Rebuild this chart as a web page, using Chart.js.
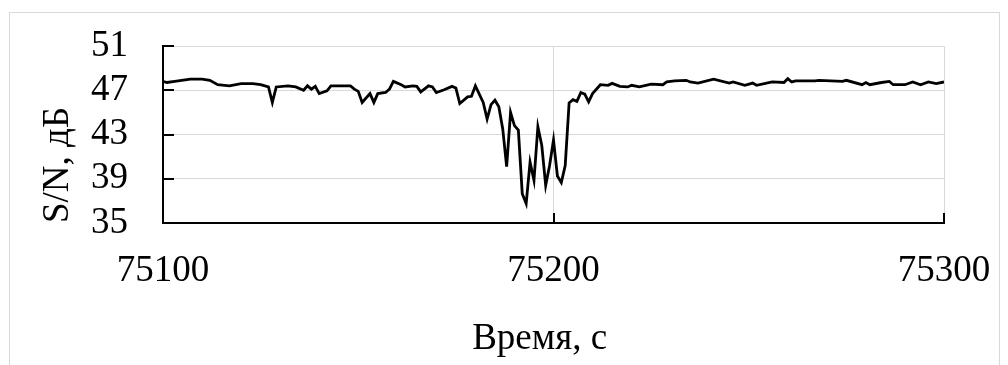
<!DOCTYPE html>
<html>
<head>
<meta charset="utf-8">
<script src="https://cdn.jsdelivr.net/npm/chart.js@4.4.0/dist/chart.umd.min.js"></script>
<style>
  html, body { margin: 0; padding: 0; background: #fff; }
  #wrap { position: relative; width: 1008px; height: 365px; overflow: hidden; }
  #frame { position: absolute; left: 9px; top: 12px; width: 991px; height: 400px; border: 1px solid #d9d9d9; box-sizing: border-box; }
  canvas { position: absolute; left: 0; top: 0; }
</style>
</head>
<body>
<div id="wrap">
  <div id="frame"></div>
  <canvas id="snrChart" width="1008" height="365"></canvas>
</div>
<script>
// Time, s
const times = [
  75100, 75101, 75103, 75107, 75110, 75112, 75114, 75117, 75120, 75123,
  75125, 75127, 75128, 75129, 75132, 75134, 75136, 75137, 75138, 75139,
  75140, 75142, 75143, 75148, 75149, 75150, 75151, 75153, 75154, 75155,
  75157, 75158, 75159, 75161, 75162, 75164, 75165, 75166, 75168, 75169,
  75170, 75172, 75174, 75175, 75176, 75178, 75179, 75180, 75182, 75183,
  75184, 75185, 75186, 75187, 75188, 75189, 75190, 75191, 75192, 75193,
  75194, 75195, 75196, 75197, 75198, 75199, 75200, 75201, 75202, 75203,
  75204, 75205, 75206, 75207, 75208, 75209, 75210, 75212, 75214, 75215,
  75217, 75219, 75220, 75222, 75225, 75228, 75229, 75231, 75234, 75235,
  75237, 75241, 75245, 75246, 75249, 75251, 75252, 75256, 75259, 75260,
  75261, 75262, 75267, 75268, 75274, 75275, 75279, 75280, 75281, 75284,
  75286, 75287, 75290, 75292, 75294, 75296, 75298, 75300
];
// S/N, dB
const snr = [
  47.8, 47.7, 47.8, 48.0, 48.0, 47.9, 47.5, 47.4, 47.6, 47.6,
  47.5, 47.3, 45.9, 47.3, 47.4, 47.3, 47.0, 47.4, 47.1, 47.35,
  46.7, 46.95, 47.4, 47.4, 47.1, 46.9, 45.9, 46.7, 45.9, 46.7,
  46.8, 47.1, 47.8, 47.5, 47.3, 47.4, 47.35, 46.85, 47.4, 47.3,
  46.8, 47.05, 47.35, 47.2, 45.8, 46.4, 46.45, 47.4, 45.9, 44.4,
  45.7, 46.1, 45.5, 43.5, 40.1, 45.0, 43.8, 43.4, 37.65, 36.75,
  40.5, 38.85, 43.7, 42.0, 38.4, 40.2, 42.5, 39.25, 38.65, 40.2,
  45.85, 46.15, 46.0, 46.8, 46.65, 45.95, 46.7, 47.5, 47.45, 47.62,
  47.35, 47.3, 47.45, 47.3, 47.55, 47.5, 47.75, 47.85, 47.9, 47.75,
  47.65, 48.0, 47.65, 47.75, 47.45, 47.65, 47.45, 47.75, 47.7, 48.05,
  47.75, 47.85, 47.85, 47.9, 47.8, 47.9, 47.5, 47.7, 47.5, 47.7,
  47.8, 47.5, 47.5, 47.75, 47.5, 47.75, 47.6, 47.75
];
const xTicks = [75100, 75200, 75300];
const yTicks = [35, 39, 43, 47, 51];

const gridGray = '#d9d9d9';
const serif = { family: '"Liberation Serif", "Times New Roman", serif', size: 37 };

// small inward tick marks, like Excel's "inside" major ticks
const innerTicks = {
    id: 'innerTicks',
    afterDraw(chart) {
        const { ctx, chartArea, scales } = chart;
        ctx.save();
        ctx.strokeStyle = '#000';
        ctx.lineWidth = 2;
        ctx.beginPath();
        yTicks.forEach(v => {
            const y = Math.round(scales.y.getPixelForValue(v));
            ctx.moveTo(chartArea.left, y);
            ctx.lineTo(chartArea.left + 11, y);
        });
        xTicks.forEach(v => {
            const x = Math.round(scales.x.getPixelForValue(v));
            ctx.moveTo(x, chartArea.bottom);
            ctx.lineTo(x, chartArea.bottom - 10);
        });
        ctx.stroke();
        ctx.restore();
    }
};

const ctx = document.getElementById('snrChart').getContext('2d');
const snrChart = new Chart(ctx, {
    type: 'line',
    data: {
        datasets: [{
            data: times.map((t, i) => ({ x: t, y: snr[i] })),
            borderColor: '#000',
            borderWidth: 2.8,
            pointRadius: 0,
            tension: 0,
            fill: false
        }]
    },
    options: {
        responsive: false,
        animation: false,
        layout: { padding: { left: 0, right: 64, top: 46, bottom: 0 } },
        plugins: {
            legend: { display: false },
            tooltip: { enabled: false }
        },
        scales: {
            x: {
                type: 'linear',
                min: 75100,
                max: 75300,
                afterFit: s => { s.height = 142; s.paddingLeft = 0; s.paddingRight = 0; },
                afterBuildTicks: s => { s.ticks = xTicks.map(v => ({ value: v })); },
                ticks: {
                    color: '#000', font: serif, padding: 26, maxRotation: 0, autoSkip: false,
                    callback: v => String(v)
                },
                grid: {
                    drawTicks: false,
                    lineWidth: 1,
                    color: c => (c.tick && c.tick.value === 75100) ? 'rgba(0,0,0,0)' : gridGray
                },
                border: { display: true, color: '#000', width: 2 },
                title: {
                    display: true,
                    text: 'Время, с\u00a0\u00a0\u00a0',
                    color: '#000',
                    font: serif,
                    padding: { top: 0, bottom: 4 }
                }
            },
            y: {
                min: 35,
                max: 51,
                afterFit: s => { s.width = 163; s.paddingTop = 0; s.paddingBottom = 0; },
                afterBuildTicks: s => { s.ticks = yTicks.map(v => ({ value: v })); },
                ticks: {
                    color: '#000', font: serif, padding: 35, autoSkip: false,
                    callback: v => String(v)
                },
                grid: {
                    drawTicks: false,
                    lineWidth: 1,
                    color: c => (c.tick && c.tick.value === 35) ? 'rgba(0,0,0,0)' : gridGray
                },
                border: { display: true, color: '#000', width: 2 },
                title: {
                    display: true,
                    text: 'S/N, дБ',
                    align: 'start',
                    color: '#000',
                    font: serif,
                    padding: { top: 36, bottom: 0 }
                }
            }
        }
    },
    plugins: [innerTicks]
});
</script>
</body>
</html>
